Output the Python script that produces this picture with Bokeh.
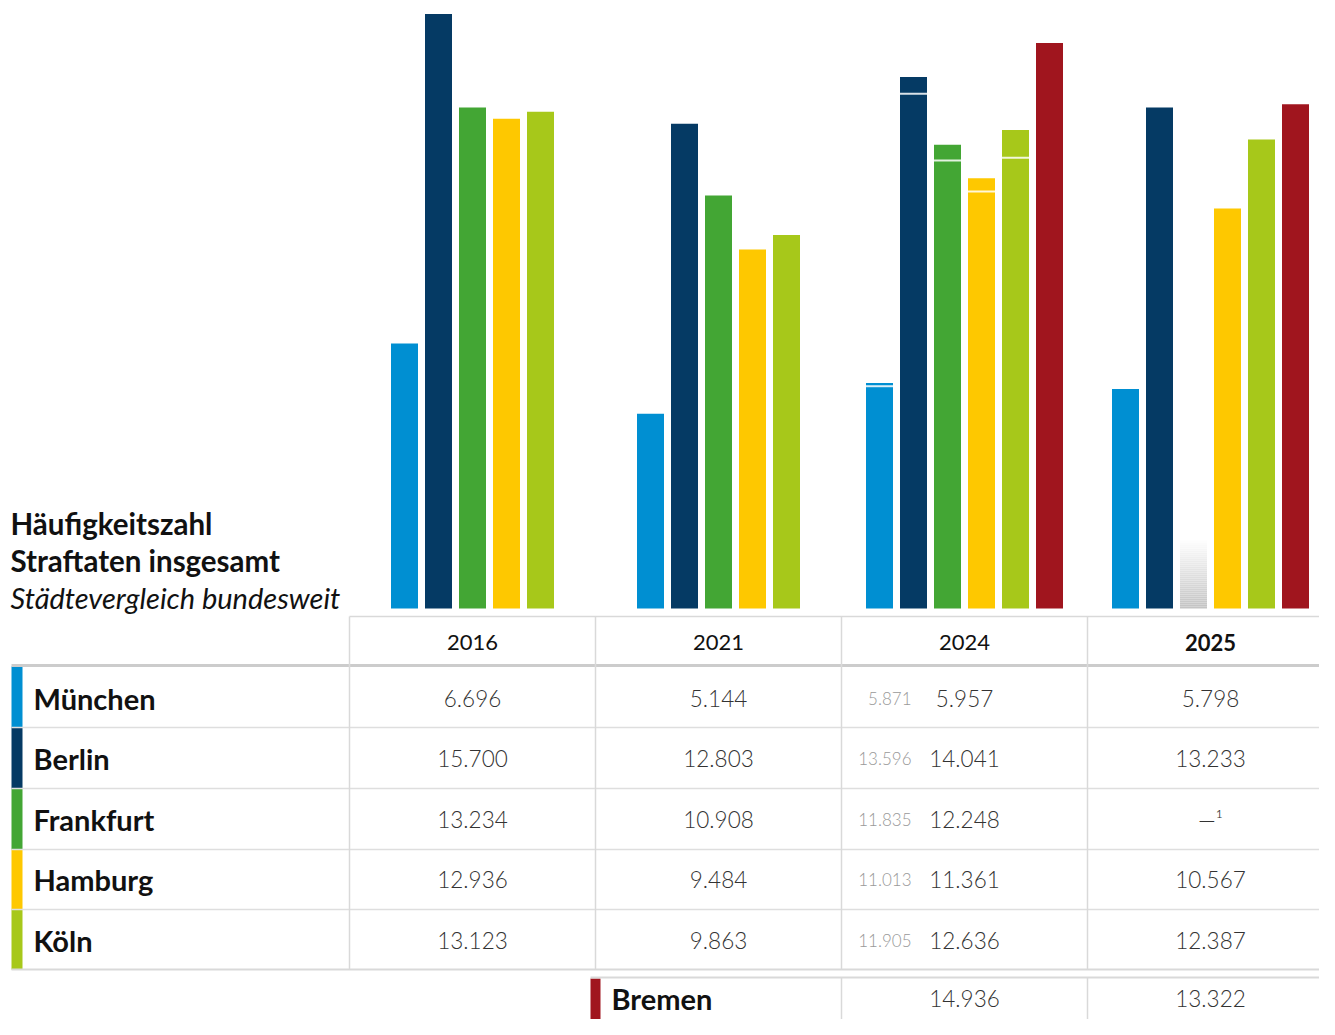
from bokeh.plotting import figure
from bokeh.models import Range1d
from bokeh.core.properties import value
from bokeh.embed import file_html
from bokeh.resources import INLINE

# ---------------- data ----------------
years = ["2016", "2021", "2024", "2025"]
cities = ["München", "Berlin", "Frankfurt", "Hamburg", "Köln"]
muenchen = [6696, 5144, 5957, 5798]
berlin = [15700, 12803, 14041, 13233]
frankfurt = [13234, 10908, 12248, None]
hamburg = [12936, 9484, 11361, 10567]
koeln = [13123, 9863, 12636, 12387]
bremen = [None, None, 14936, 13322]
prev_2024 = [5871, 13596, 11835, 11013, 11905]   # earlier 2024 figures (small grey)
muenchen_2016_bar = 7000                            # bar height as drawn in the picture

colors = ["#008fd2", "#053a64", "#43a634", "#fec800", "#a7c81a"]
bremen_color = "#a0151e"

FONT = "Lato"
LIGHT = "Lato Light, Lato"

def de(v):
    return f"{v:,}".replace(",", ".")

# ---------------- figure ----------------
W, H = 1319, 1019
p = figure(width=W, height=H, x_range=Range1d(0, W), y_range=Range1d(H, 0),
           output_backend="svg", toolbar_location=None, min_border=0)
p.axis.visible = False
p.grid.visible = False
p.outline_line_color = None
p.background_fill_color = "white"

base_y = 608.0
k = 0.03786
p.extra_y_ranges = {"val": Range1d(start=(base_y - H) / k, end=(base_y - 0) / k)}

col_left = [349, 595, 841, 1087]
col_w = 246
centers = [c + col_w / 2 for c in col_left]
slot = 34
bw = 27

series = [muenchen, berlin, frankfurt, hamburg, koeln]

# ---------------- bars ----------------
for g in range(4):
    slots = []
    for i, s in enumerate(series):
        v = s[g]
        if g == 0 and i == 0:
            v = muenchen_2016_bar
        slots.append((v, colors[i], i))
    if bremen[g] is not None:
        slots.append((bremen[g], bremen_color, 5))
    n = len(slots)
    for j, (v, c, i) in enumerate(slots):
        x = centers[g] + (j - (n - 1) / 2) * slot
        if v is None:
            # grey fading placeholder (no value)
            steps = 35
            for t in range(steps):
                f = t / (steps - 1)
                lv = int(0xc4 + (0xff - 0xc4) * f)
                col = "#%02x%02x%02x" % (lv, lv, lv)
                p.quad(left=x - bw / 2, right=x + bw / 2, bottom=base_y - 2 * t,
                       top=base_y - 2 * t - 2, fill_color=col, line_color=None)
            continue
        p.vbar(x=x, width=bw, bottom=0, top=v, fill_color=c, line_color=None,
               y_range_name="val")
        if g == 2 and i < 5:
            p.segment(x0=x - bw / 2, x1=x + bw / 2, y0=prev_2024[i], y1=prev_2024[i],
                      line_color="white", line_width=2, line_alpha=0.85, y_range_name="val")

# ---------------- title ----------------
p.text(x=[10, 10], y=[523, 560], text=["Häufigkeitszahl", "Straftaten insgesamt"],
       text_font=value(FONT), text_font_style="bold", text_font_size="29.5px",
       text_color="#111111", text_baseline="middle")
p.text(x=[10], y=[597], text=["Städtevergleich bundesweit"], text_font=value(FONT),
       text_font_style="italic", text_font_size="29px", text_color="#111111",
       text_baseline="middle")

# ---------------- table ----------------
row_top = [666, 727, 788, 849, 909]
row_bot = [727, 788, 849, 909, 969]
row_mid = [698, 758, 819, 879, 940]
brem_top = 977
brem_mid = 998

for i in range(5):
    p.quad(left=11, right=22, top=row_top[i], bottom=row_bot[i], fill_color=colors[i],
           line_color=None)
p.quad(left=590, right=600, top=brem_top + 1, bottom=H, fill_color=bremen_color,
       line_color=None)

grid = "#d9d9d9"
# horizontal lines
p.segment(x0=349, x1=1332, y0=616, y1=616, line_color=grid, line_width=1.5)
p.segment(x0=11, x1=1332, y0=665, y1=665, line_color="#cccccc", line_width=3)
for yy in row_top[1:]:
    p.segment(x0=11, x1=1332, y0=yy, y1=yy, line_color="#dedede", line_width=1.5)
p.segment(x0=11, x1=1332, y0=969, y1=969, line_color=grid, line_width=2)
p.segment(x0=590, x1=1332, y0=brem_top, y1=brem_top, line_color=grid, line_width=2)
# vertical lines
for xx in col_left + [1332]:
    p.segment(x0=xx, x1=xx, y0=616, y1=969, line_color=grid, line_width=1.5)
for xx in [841, 1087, 1332]:
    p.segment(x0=xx, x1=xx, y0=brem_top, y1=H, line_color=grid, line_width=1.5)

# header
p.text(x=centers[:3], y=[642] * 3, text=years[:3], text_font=value(FONT),
       text_font_size="22px", text_color="#111111", text_align="center",
       text_baseline="middle")
p.text(x=[centers[3]], y=[642], text=[years[3]], text_font=value(FONT),
       text_font_style="bold", text_font_size="22px", text_color="#111111",
       text_align="center", text_baseline="middle")

# city names
p.text(x=[33] * 5, y=row_mid, text=cities, text_font=value(FONT), text_font_style="bold",
       text_font_size="29px", text_color="#111111", text_baseline="middle")
p.text(x=[611], y=[brem_mid], text=["Bremen"], text_font=value(FONT),
       text_font_style="bold", text_font_size="29px", text_color="#111111",
       text_baseline="middle")

# values
for g in range(4):
    xs, ys, ts = [], [], []
    for i, s in enumerate(series):
        v = s[g]
        xs.append(centers[g])
        ys.append(row_mid[i])
        ts.append(de(v) if v is not None else "—¹")
    if bremen[g] is not None:
        xs.append(centers[g]); ys.append(brem_mid); ts.append(de(bremen[g]))
    p.text(x=xs, y=ys, text=ts, text_font=value(LIGHT), text_font_size="22.5px",
           text_color="#333333", text_align="center", text_baseline="middle")

p.text(x=[911] * 5, y=row_mid, text=[de(v) for v in prev_2024], text_font=value(LIGHT),
       text_font_size="17px", text_color="#999999", text_align="right",
       text_baseline="middle")

open("out.html", "w").write(file_html(p, INLINE))
